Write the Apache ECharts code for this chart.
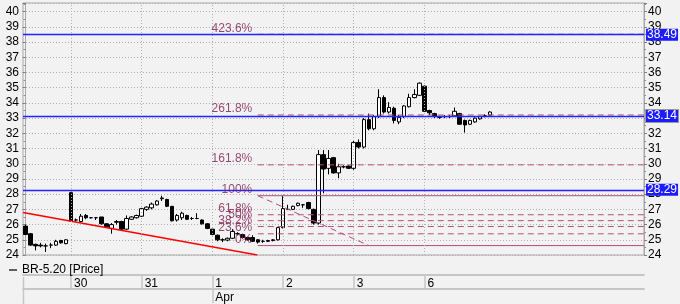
<!DOCTYPE html>
<html><head><meta charset="utf-8">
<script src="https://cdn.jsdelivr.net/npm/echarts@6/dist/echarts.min.js"></script>
<style>html,body{margin:0;padding:0;background:#f2f2f2}#c{width:680px;height:304px}</style>
</head><body><div id="c"></div>
<script>
// ---- data (hourly bars) ----
const opens  = [25.9,25.4,24.7,24.65,24.6,24.65,24.65,24.95,24.75,
  28.1,26.3,26.2,26.6,26.45,26.45,26.5,26.05,25.75,26.15,26.2,25.7,26.35,26.45,
  26.55,27.0,27.1,27.3,27.7,27.65,27.2,26.3,26.45,26.6,26.4,26.4,26.3,26.05,
  25.7,25.3,25.0,24.98,25.1,25.4,25.35,25.15,25.15,25.0,24.9,24.9,24.95,25.0,
  25.8,27.0,27.0,27.25,27.3,27.45,27.0,26.1,30.6,29.7,30.4,29.4,29.8,29.85,
  29.7,31.4,31.1,32.9,32.3,33.1,34.35,33.4,33.65,32.75,33.1,33.75,34.35,34.5,
  35.1,33.5,33.3,33.05,33.1,33.1,33.15,33.3,32.85,32.6,32.75,32.95,33.15,33.2];
const closes = [25.35,24.65,24.6,24.6,24.6,24.65,24.9,24.8,25.0,
  26.25,26.3,26.55,26.45,26.45,26.45,26.05,25.85,26.0,26.2,25.7,26.4,26.5,26.6,
  27.05,27.15,27.35,27.55,27.75,27.2,26.25,26.6,26.75,26.35,26.4,26.4,26.05,25.75,
  25.35,25.0,25.0,25.1,25.55,25.4,25.15,25.0,24.9,24.85,24.9,24.95,25.0,25.8,
  27.05,27.0,27.2,27.4,27.3,27.05,26.1,30.6,29.65,30.35,29.4,29.8,29.8,29.7,
  31.4,31.1,32.9,32.3,33.1,34.35,33.4,33.7,32.85,33.05,33.8,34.35,34.55,35.3,
  33.45,33.35,33.1,33.05,33.1,33.1,33.45,32.6,32.55,32.85,33.0,33.1,33.15,33.4];
const lows   = [25.3,24.6,24.3,24.5,24.2,24.45,24.6,24.75,24.7,
  26.2,26.2,26.15,26.35,26.4,26.3,26.0,25.8,25.4,26.0,25.65,25.65,26.3,26.4,
  26.5,26.9,27.0,27.25,27.55,27.15,26.2,26.2,26.3,26.3,26.3,26.35,26.0,25.7,
  25.3,24.9,24.85,24.9,25.05,25.3,25.1,24.95,24.85,24.75,24.8,24.85,24.9,24.95,
  25.75,26.95,26.95,27.2,27.1,27.0,26.0,26.0,28.06,29.3,29.35,29.05,29.7,29.65,
  29.6,31.0,31.0,32.2,32.2,33.0,33.3,33.3,32.65,32.6,33.0,33.7,34.3,34.45,
  33.4,33.2,33.0,32.95,33.0,33.0,33.1,32.55,32.05,32.55,32.7,32.9,33.05,33.15];
const highs  = [26.0,25.45,24.75,24.8,24.75,24.8,25.0,25.0,25.05,
  28.15,26.4,26.7,26.7,26.5,26.5,26.5,26.1,26.1,26.3,26.25,26.6,26.55,26.65,
  27.1,27.2,27.45,27.6,27.9,27.7,27.2,26.7,26.85,26.65,26.5,26.75,26.35,26.1,
  25.7,25.35,25.1,25.15,25.7,25.5,25.4,25.2,25.3,25.05,25.0,25.0,25.05,25.85,
  27.9,27.3,27.25,27.45,27.35,27.5,27.05,30.9,30.9,30.9,30.45,30.0,29.9,29.9,
  31.5,31.6,33.0,33.3,33.2,34.9,34.5,34.05,33.75,33.2,33.85,34.6,34.9,35.35,
  35.15,33.55,33.35,33.15,33.2,33.2,33.7,33.35,32.9,32.9,33.05,33.15,33.25,33.45];

const dayLabels = ['27','30','31','1','2','3','6'];
const firstDayBars = 9;
const barsPerDay = 14;
const totalSlots = 123;
const monthLabel = 'Apr';
const monthStartDay = '1';
const priceLevels = [38.49, 33.14, 28.29];
const fibLevels = [0, 23.6, 38.2, 50, 61.8, 100, 161.8, 261.8, 423.6];
const fibLow = 24.62, fibHigh = 27.9;
const fibStartSlot = 46, fibEndSlot = 68;
const trendLine = [[-0.5, 26.8], [45.9, 24.0]];
const yMin = 24, yMax = 40.57;

// ---- derived ----
const cats = [], dayStartLabel = {};
for (let i = 0; i < totalSlots; i++) cats.push('s' + i);
const dayStarts = [];
for (let d = 1; d < dayLabels.length; d++) {
  const idx = firstDayBars + (d - 1) * barsPerDay;
  dayStarts.push(idx); dayStartLabel[idx] = dayLabels[d];
}
const monthStart = dayStarts[dayLabels.indexOf(monthStartDay) - 1];
const candles = opens.map((o, i) => [o, closes[i], lows[i], highs[i]]);
const fibVal = l => fibLow + (fibHigh - fibLow) * l / 100;

const FONT = 'Liberation Sans';
const chart = echarts.init(document.getElementById('c'));
const axisY = (pos, split) => ({
  type: 'value', position: pos, min: yMin, max: yMax, interval: 1,
  axisLine: {show: true, lineStyle: {color: '#a8a8a8'}},
  axisTick: {show: true, length: 3, lineStyle: {color: '#808080'}},
  minorTick: {show: true, splitNumber: 2, length: 2, lineStyle: {color: '#909090'}},
  axisLabel: {color: '#000', fontSize: 12, fontFamily: FONT, margin: 4, showMaxLabel: false,
    formatter: v => (Math.abs(v - Math.round(v)) < 1e-6 ? String(Math.round(v)) : '')},
  splitLine: {show: split, lineStyle: {color: '#b0b0b0', type: [1, 2]}}
});
const fibSeries = fibLevels.map(l => ({
  type: 'line', xAxisIndex: 3, yAxisIndex: 0, silent: true, z: 4,
  symbol: 'none', data: [[fibStartSlot, fibVal(l)], [totalSlots - 0.5, fibVal(l)]],
  lineStyle: {color: '#b4507c', width: 1, type: (l === 0 || l === 100) ? 'solid' : [6, 4]}
}));
const fibLabels = {
  type: 'scatter', xAxisIndex: 3, yAxisIndex: 0, silent: true, z: 5,
  symbol: 'circle', symbolSize: 1, itemStyle: {color: 'rgba(0,0,0,0)'},
  data: fibLevels.map(l => ({value: [fibStartSlot, fibVal(l)], name: l + '%'})),
  label: {show: true, position: 'left', distance: 5, offset: [0, -6], formatter: p => p.name,
    color: '#7d1a4c', fontSize: 12, fontFamily: FONT}
};
chart.setOption({
  animation: false,
  backgroundColor: '#f2f2f2',
  textStyle: {fontFamily: FONT},
  grid: {left: 23, right: 36, top: 3, bottom: 47, show: true, borderColor: '#a8a8a8', borderWidth: 1},
  legend: {data: ['BR-5.20 [Price]'], left: 9, top: 264, padding: 0, icon: 'rect', itemWidth: 8, itemHeight: 2,
    itemStyle: {color: '#606060', borderWidth: 0}, selectedMode: false, itemGap: 5,
    textStyle: {fontSize: 12, color: '#000', fontFamily: FONT}},
  xAxis: [
    {type: 'category', data: cats, boundaryGap: true, axisLine: {show: false}, axisTick: {show: false},
      axisLabel: {show: false}, splitLine: {show: false}},
    {type: 'category', data: cats, position: 'bottom', offset: 20, boundaryGap: true,
      axisLine: {show: true, lineStyle: {color: '#c6c6c6', width: 2}},
      axisTick: {show: true, alignWithLabel: true, length: 14, interval: i => dayStartLabel[i] !== undefined,
        lineStyle: {color: '#c6c6c6', width: 1.5}},
      axisLabel: {interval: i => dayStartLabel[i] !== undefined, formatter: (v, i) => dayStartLabel[i] || '',
        align: 'left', padding: [0, 0, 0, 3], margin: 3, color: '#000', fontSize: 12, fontFamily: FONT}},
    {type: 'category', data: cats, position: 'bottom', offset: 34, boundaryGap: true,
      axisLine: {show: true, lineStyle: {color: '#c6c6c6', width: 2}},
      axisTick: {show: true, alignWithLabel: true, length: 14, interval: i => i === monthStart,
        lineStyle: {color: '#c6c6c6', width: 1.5}},
      axisLabel: {interval: i => i === monthStart, formatter: (v, i) => i === monthStart ? monthLabel : '',
        align: 'left', padding: [0, 0, 0, 3], margin: 3, color: '#000', fontSize: 12, fontFamily: FONT}},
    {type: 'value', min: -0.5, max: totalSlots - 0.5, show: false}
  ],
  yAxis: [axisY('left', true), axisY('right', false)],
  graphic: [{type: 'line', shape: {x1: 23.5, y1: 277, x2: 23.5, y2: 304},
    style: {stroke: '#c6c6c6', lineWidth: 1.5}, silent: true}],
  series: [
    {name: 'BR-5.20 [Price]', type: 'candlestick', xAxisIndex: 0, yAxisIndex: 0, data: candles,
      barWidth: 4, z: 3,
      itemStyle: {color: '#ffffff', color0: '#000000', borderColor: '#000000', borderColor0: '#000000', borderWidth: 1},
      markLine: {symbol: 'none', silent: true, animation: false,
        data: [
          ...dayStarts.map(i => ({xAxis: i, lineStyle: {color: '#b0b0b0', type: [1, 2], width: 1}, label: {show: false}})),
          ...priceLevels.map((v, k) => ({yAxis: v, lineStyle: {color: '#2323ff', width: 1.3, type: 'solid'},
            label: {show: true, position: 'end', distance: 2, formatter: v.toFixed(2), color: '#fff',
              backgroundColor: '#1c1cff', padding: [0, 1, 0, 1], fontSize: 12, fontFamily: FONT,
              borderColor: k === 1 ? '#9a9a9a' : 'transparent', borderWidth: k === 1 ? 1 : 0}}))
        ]}},
    ...fibSeries,
    fibLabels,
    {type: 'line', xAxisIndex: 3, yAxisIndex: 0, silent: true, symbol: 'none', z: 4,
      data: [[fibStartSlot, fibHigh], [fibEndSlot, fibLow]],
      lineStyle: {color: '#b4507c', width: 1, type: [6, 4]}},
    {type: 'line', xAxisIndex: 3, yAxisIndex: 0, silent: true, symbol: 'none', z: 4,
      data: trendLine, lineStyle: {color: '#ff0000', width: 1.5}}
  ]
});
</script></body></html>
